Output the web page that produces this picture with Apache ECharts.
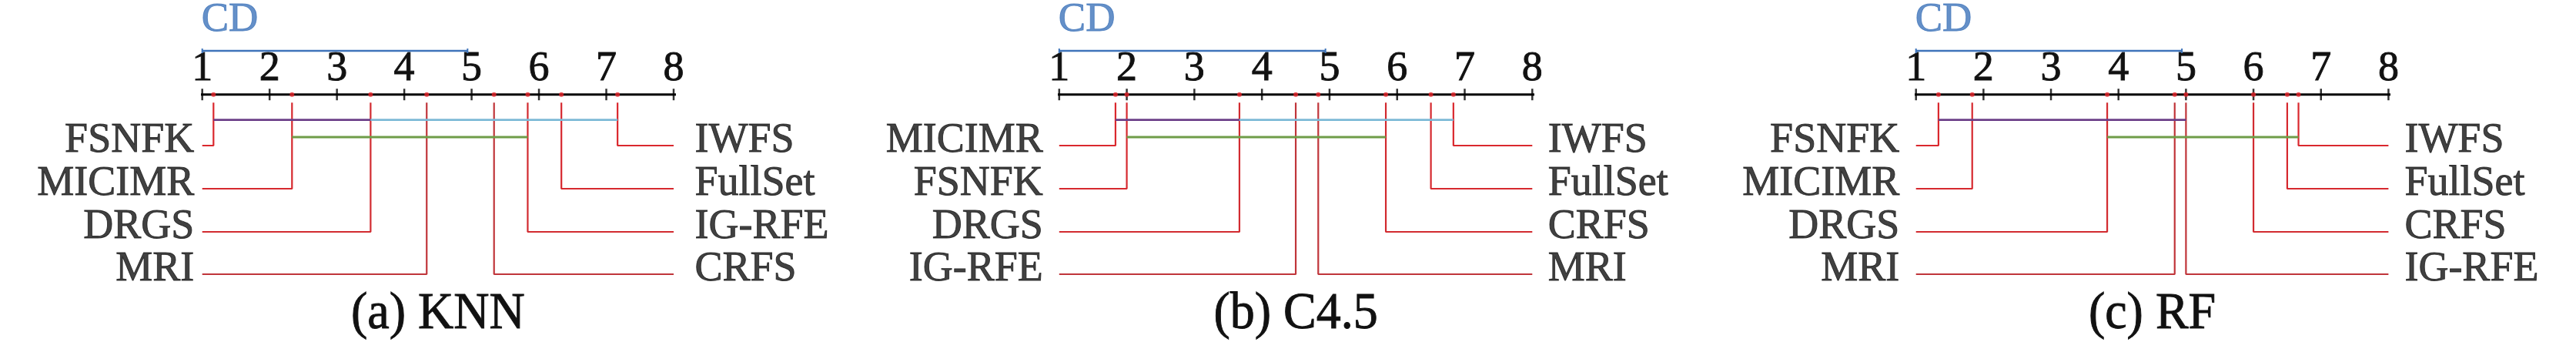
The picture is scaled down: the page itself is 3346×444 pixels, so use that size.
<!DOCTYPE html>
<html><head><meta charset="utf-8">
<script src="https://cdn.jsdelivr.net/npm/echarts@6/dist/echarts.min.js"></script>
<style>html,body{margin:0;padding:0;background:#fff}#c{width:3346px;height:444px}</style>
</head><body><div id="c"></div>
<script>
// ---------------- data ----------------
const tickValues = [1, 2, 3, 4, 5, 6, 7, 8];
const panelTitles = ['(a) KNN', '(b) C4.5', '(c) RF'];
const criticalDifference = 3.94;

const knnMethods = ['FSNFK', 'MICIMR', 'DRGS', 'MRI', 'CRFS', 'IG-RFE', 'FullSet', 'IWFS'];
const knnRanks   = [1.167, 2.333, 3.5, 4.333, 5.333, 5.833, 6.333, 7.167];
const knnCliques = [[1.167, 3.5], [3.5, 7.167], [2.333, 5.833]];

const c45Methods = ['MICIMR', 'FSNFK', 'DRGS', 'IG-RFE', 'MRI', 'CRFS', 'FullSet', 'IWFS'];
const c45Ranks   = [1.833, 2.0, 3.667, 4.5, 4.833, 5.833, 6.5, 6.833];
const c45Cliques = [[1.833, 3.667], [3.667, 6.833], [2.0, 5.833]];

const rfMethods = ['FSNFK', 'MICIMR', 'DRGS', 'MRI', 'IG-RFE', 'CRFS', 'FullSet', 'IWFS'];
const rfRanks   = [1.333, 1.833, 3.833, 4.833, 5.0, 6.0, 6.5, 6.667];
const rfCliques = [[1.333, 5.0], [3.833, 6.667]];

// ---------------- layout / style ----------------
const panels = [
  {methods: knnMethods, ranks: knnRanks, cliques: knnCliques, cliqueLevels: [0, 0, 1], cliqueColors: ['#6b3f88', '#7cb9d6', '#6f9d48'], left: 262.7, right: 875.0, gapL: 10.5, gapR: 27.5},
  {methods: c45Methods, ranks: c45Ranks, cliques: c45Cliques, cliqueLevels: [0, 0, 1], cliqueColors: ['#6b3f88', '#7cb9d6', '#6f9d48'], left: 1375.8, right: 1990.3, gapL: 21, gapR: 20.5},
  {methods: rfMethods, ranks: rfRanks, cliques: rfCliques, cliqueLevels: [0, 1], cliqueColors: ['#6b3f88', '#6f9d48'], left: 2488.7, right: 3102.4, gapL: 21.5, gapR: 21}
];
const AXIS_TOP = 122.7, GRID_H = 444 - 122.7;
const ROW_Y = [66.3, 122.3, 178.3, 233.3];
const DROP_START = 10.5;
const CLIQUE_Y = [33, 55.3];
const CD_Y = -56.7, CD_LABEL_Y = -97;
const FONT = 'Liberation Serif';
const INK = '#111';
const RED = ['#da282e', '#d6292f', '#d22b30', '#c0353a'];
const BLUE = '#3f74ba';
const bold = (c) => ({textBorderColor: c, textBorderWidth: 0.9});

const grids = [], xAxes = [], yAxes = [], series = [], graphics = [];
panels.forEach((p, i) => {
  grids.push({left: p.left, width: p.right - p.left, top: AXIS_TOP, height: GRID_H});
  xAxes.push({gridIndex: i, type: 'value', min: 1, max: 8, interval: 1, position: 'top',
    axisLine: {show: false}, axisTick: {show: false}, splitLine: {show: false},
    axisLabel: Object.assign({fontFamily: FONT, fontSize: 54, color: INK, margin: 6}, bold(INK))});
  yAxes.push({gridIndex: i, type: 'value', min: 0, max: GRID_H, inverse: true, show: false});
  const base = {xAxisIndex: i, yAxisIndex: i, silent: true, animation: false, clip: false};
  const ext = 0.095;
  // main axis line
  series.push(Object.assign({}, base, {type: 'line', symbol: 'none', data: [[1 - ext, 0], [8 + ext, 0]],
    lineStyle: {color: '#000', width: 3}, z: 3}));
  // ticks
  series.push(Object.assign({}, base, {type: 'scatter', symbol: 'rect', symbolSize: [2.5, 15],
    data: tickValues.map(t => [t, 0]), itemStyle: {color: '#000'}, z: 4}));
  // drop lines and labels
  const n = p.ranks.length;
  p.ranks.forEach((r, k) => {
    const leftSide = k < n / 2;
    const row = leftSide ? k : n - 1 - k;
    const y = ROW_Y[row];
    const edge = leftSide ? 1 : 8;
    series.push(Object.assign({}, base, {type: 'line', symbol: 'none',
      data: [[r, DROP_START], [r, y], [edge, y]], lineStyle: {color: RED[row], width: 2.2}, z: 2}));
    series.push(Object.assign({}, base, {type: 'scatter', symbolSize: 0,
      data: [{value: [edge, y], name: p.methods[k]}],
      label: Object.assign({show: true, formatter: '{b}', position: leftSide ? 'left' : 'right',
        distance: leftSide ? p.gapL : p.gapR, offset: [0, -6],
        fontFamily: FONT, fontSize: 54, color: INK}, bold(INK)), z: 5}));
  });
  // cliques
  p.cliques.forEach((c, k) => {
    const y = CLIQUE_Y[p.cliqueLevels[k]];
    series.push(Object.assign({}, base, {type: 'line', symbol: 'none',
      data: [[c[0], y], [c[1], y]], lineStyle: {color: p.cliqueColors[k], width: 2.8}, z: 3}));
  });
  // rank dots
  series.push(Object.assign({}, base, {type: 'scatter', symbolSize: 6,
    data: p.ranks.map(r => [r, 0]), itemStyle: {color: '#e8262c'}, z: 6}));
  // CD bar
  series.push(Object.assign({}, base, {type: 'line', symbol: 'none',
    data: [[1, CD_Y], [1 + criticalDifference, CD_Y]], lineStyle: {color: BLUE, width: 2.5}, z: 3}));
  [1, 1 + criticalDifference].forEach(x => {
    series.push(Object.assign({}, base, {type: 'line', symbol: 'none',
      data: [[x, CD_Y - 3], [x, CD_Y + 3]], lineStyle: {color: BLUE, width: 2}, z: 3}));
  });
  series.push(Object.assign({}, base, {type: 'scatter', symbolSize: 0,
    data: [{value: [1, CD_LABEL_Y], name: 'CD'}],
    label: Object.assign({show: true, formatter: '{b}', position: 'right', distance: -1,
      fontFamily: FONT, fontSize: 53, color: BLUE}, bold(BLUE)), z: 5}));
  // panel caption
  graphics.push({type: 'text', x: (p.left + p.right) / 2, y: 408, scaleY: 1.06, silent: true,
    style: {text: panelTitles[i], fontFamily: FONT, fontSize: 64, fill: INK,
      align: 'center', verticalAlign: 'middle', stroke: INK, lineWidth: 0.9}});
});

const chart = echarts.init(document.getElementById('c'), null, {renderer: 'canvas'});
chart.setOption({animation: false, backgroundColor: '#fff', graphic: graphics,
  grid: grids, xAxis: xAxes, yAxis: yAxes, series: series});
</script></body></html>
